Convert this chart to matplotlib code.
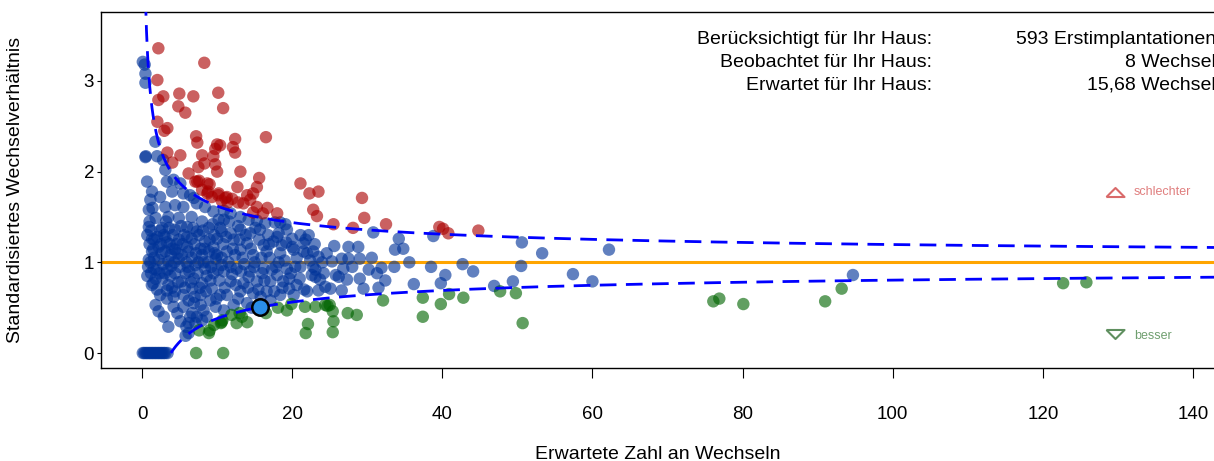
import numpy as np
from matplotlib import pyplot as plt

plt.rcParams['font.family'] = ['Liberation Sans', 'DejaVu Sans']

# -------------------------------
# Data: (expected changes, standardised ratio) per hospital
# -------------------------------
blue_pts = [
    # observed = 0
    (0.1, 0), (0.3, 0), (0.5, 0), (0.7, 0), (0.9, 0), (1.1, 0), (1.3, 0), (1.5, 0),
    (1.7, 0), (1.9, 0), (2.1, 0), (2.3, 0), (2.5, 0), (2.7, 0), (2.9, 0), (3.1, 0), (3.4, 0),
    # small expected counts, high ratios
    (0.1, 3.21), (0.35, 3.18), (0.45, 3.08), (0.45, 2.98), (0.45, 2.16),
    (1.77, 2.33), (0.5, 2.17), (2.0, 2.17), (2.8, 2.13), (3.1, 2.02), (0.67, 1.89),
    (3.3, 1.89), (4.2, 1.91), (5.1, 1.87), (1.33, 1.78), (2.4, 1.72), (1.1, 1.69),
    (4.0, 1.78), (5.5, 1.76), (6.4, 1.74), (6.9, 1.71), (0.9, 1.58), (3.1, 1.61),
    (4.4, 1.63), (5.5, 1.61), (7.3, 1.65), (8.4, 1.61), (9.5, 1.56), (1.8, 1.49),
    (3.5, 1.50), (4.9, 1.49), (6.6, 1.50), (8.0, 1.45), (10.2, 1.47), (0.9, 1.39),
    (2.7, 1.38), (4.4, 1.36), (6.0, 1.39), (7.3, 1.34), (8.9, 1.38), (10.6, 1.34),
    (1.33, 1.26), (3.1, 1.28), (4.9, 1.25), (6.6, 1.26), (8.4, 1.23), (10.0, 1.26),
    (2.2, 1.17), (4.0, 1.15), (6.0, 1.17), (7.8, 1.15), (9.5, 1.17),
    (10.9, 1.57), (11.8, 1.54), (13.1, 1.50), (14.2, 1.47), (15.3, 1.46), (16.4, 1.43),
    (17.7, 1.44), (19.1, 1.42), (19.3, 1.36), (21.1, 1.30), (21.5, 1.21), (20.0, 1.26),
    (18.2, 1.32), (16.8, 1.30), (15.7, 1.36), (14.4, 1.32), (13.1, 1.36), (11.8, 1.32),
    (10.9, 1.47), (12.2, 1.25), (14.0, 1.21), (16.2, 1.19), (17.5, 1.23), (18.6, 1.19),
    (20.0, 1.17), (18.4, 1.44), (22.0, 1.10), (22.8, 0.95), (23.1, 0.84),
    # around the reference line and below
    (0.9, 1.03), (1.55, 0.93), (1.3, 0.75), (1.8, 0.53), (2.2, 0.46), (2.9, 0.40),
    (3.5, 0.29), (2.4, 0.64), (3.3, 0.60), (4.2, 0.51), (4.7, 0.44), (5.1, 0.35),
    (6.2, 0.33), (6.7, 0.44), (7.3, 0.40), (8.0, 0.36), (8.2, 0.47), (8.6, 0.40),
    (2.7, 0.82), (3.5, 0.75), (4.4, 0.68), (5.5, 0.64), (6.2, 0.58), (6.9, 0.55),
    (7.8, 0.53), (5.3, 0.79), (6.7, 0.71), (7.8, 0.64), (9.1, 0.58), (9.8, 0.51),
    (4.4, 0.88), (5.8, 0.88), (6.9, 0.82), (8.0, 0.77), (9.3, 0.71), (10.4, 0.64),
    (7.1, 0.97), (8.4, 0.93), (9.5, 0.88), (2.2, 1.03), (3.5, 1.01), (4.9, 1.04),
    (3.1, 1.12), (4.4, 1.14), (6.2, 1.12), (8.0, 1.08), (9.8, 1.04), (10.6, 0.97),
    (1.33, 1.12), (5.9, 0.29), (5.8, 0.19), (6.2, 0.22), (1.5, 0.77), (3.3, 0.69),
    (4.2, 0.62), (5.5, 0.51), (6.4, 0.40), (7.1, 0.33),
    (11.3, 1.12), (13.1, 1.14), (14.8, 1.08), (16.6, 1.12), (18.4, 1.10), (20.2, 1.14),
    (21.5, 1.12), (22.8, 1.12), (21.1, 0.95), (22.6, 0.86), (19.3, 0.93), (18.0, 0.86),
    (16.2, 0.93), (14.4, 0.90), (12.6, 0.93), (10.9, 0.90), (11.8, 0.79), (13.5, 0.77),
    (15.3, 0.79), (17.1, 0.79), (18.8, 0.79), (20.6, 0.75), (22.0, 0.68), (20.2, 0.64),
    (18.4, 0.64), (16.6, 0.68), (14.8, 0.66), (13.1, 0.68), (11.3, 0.64), (12.2, 0.53),
    (14.0, 0.55), (14.6, 0.50), (17.1, 0.58), (10.9, 0.47),
    # dense middle of the cloud
    (0.7, 1.30), (1.0, 1.20), (0.8, 0.95), (0.7, 0.85), (1.2, 0.88), (1.6, 1.05),
    (1.9, 0.92), (2.0, 1.28), (2.4, 1.35), (2.6, 1.10), (2.8, 0.98), (3.0, 0.88),
    (3.3, 1.22), (3.8, 1.08), (3.9, 0.96), (4.1, 1.30), (4.6, 1.20), (5.0, 0.95),
    (5.3, 1.08), (5.6, 1.30), (5.9, 1.00), (6.3, 0.90), (6.6, 1.05), (7.0, 1.20),
    (7.4, 0.88), (7.6, 1.30), (8.2, 1.00), (8.6, 0.85), (8.9, 1.12), (9.2, 0.95),
    (9.6, 1.30), (10.0, 1.08), (10.3, 0.80), (10.8, 1.20), (11.5, 1.00), (12.0, 0.87),
    (12.4, 1.08), (13.0, 1.25), (13.6, 0.98), (14.2, 0.84), (15.0, 1.00), (15.6, 1.25),
    (16.0, 0.88), (17.0, 1.05), (17.8, 0.95), (18.0, 1.28), (19.0, 1.02), (19.8, 0.88),
    (20.6, 1.05), (21.8, 1.25), (22.4, 1.02), (12.8, 0.60), (15.8, 0.62), (19.6, 0.71),
    (1.0, 1.45), (1.4, 1.60), (1.2, 1.35), (1.6, 1.25), (1.5, 1.15), (1.1, 1.00),
    (1.8, 0.82), (2.0, 0.70), (2.3, 0.88), (2.5, 1.20), (2.9, 1.30), (3.2, 1.45),
    (3.6, 1.38), (3.7, 1.20), (3.4, 0.92), (3.8, 0.85), (4.0, 0.72), (4.3, 1.00),
    (4.7, 1.10), (4.8, 0.78), (5.2, 1.40), (5.4, 1.20), (5.7, 0.72), (6.0, 1.28),
    (6.1, 0.95), (6.5, 0.78), (6.8, 1.38), (7.0, 0.62), (7.2, 1.10), (7.5, 1.00),
    (7.7, 0.72), (8.1, 1.35), (8.3, 1.15), (8.5, 0.68), (8.8, 1.00), (9.0, 1.25),
    (9.1, 0.80), (9.4, 1.42), (9.7, 1.10), (9.9, 0.60), (10.1, 0.92), (10.4, 1.38),
    (10.6, 1.05), (11.0, 0.72), (11.2, 1.28), (11.6, 1.45), (11.8, 0.95), (12.1, 1.15),
    (12.5, 0.75), (12.8, 1.40), (13.2, 0.90), (13.4, 1.05), (13.8, 1.30), (14.1, 0.72),
    (14.5, 1.15), (14.9, 0.95), (15.1, 1.38), (15.5, 0.70), (15.9, 1.05), (16.3, 0.80),
    (16.9, 1.20), (17.3, 0.92), (17.6, 0.68), (18.2, 1.00), (18.7, 0.72), (19.2, 1.22),
    (19.6, 0.82), (20.4, 0.95), (21.0, 0.82), (21.6, 0.70), (22.2, 1.30), (23.0, 1.20),
    # larger hospitals
    (30.8, 1.33), (34.2, 1.26), (33.7, 1.14), (34.8, 1.15), (38.8, 1.29), (27.5, 1.17),
    (28.8, 1.17), (24.6, 1.10), (23.5, 1.06), (26.6, 1.04), (27.5, 1.04), (29.0, 1.04),
    (25.3, 1.01), (24.0, 1.00), (26.8, 0.93), (30.2, 0.92), (31.3, 0.88), (31.9, 0.94),
    (33.6, 0.95), (38.5, 0.95), (42.7, 0.98), (44.1, 0.90), (40.4, 0.86), (39.8, 0.77),
    (26.2, 0.84), (27.3, 0.81), (29.0, 0.82), (29.5, 0.71), (31.5, 0.72), (23.1, 0.92),
    (23.7, 0.81), (24.4, 0.73), (25.1, 0.71), (23.5, 0.69), (26.6, 0.69),
    (24.2, 0.88), (25.6, 1.18), (25.8, 0.86), (28.0, 0.95), (30.6, 1.05), (32.4, 0.80),
    (35.6, 1.00), (36.2, 0.76),
    (46.9, 0.74), (49.4, 0.79), (50.6, 1.22), (50.5, 0.96), (53.3, 1.10), (57.4, 0.87),
    (60.0, 0.79), (62.2, 1.14), (94.7, 0.86),
]

red_pts = [
    (2.17, 3.36), (8.29, 3.20), (2.04, 3.01), (2.83, 2.83), (2.17, 2.79), (4.96, 2.86),
    (6.83, 2.83), (10.15, 2.87), (4.83, 2.72), (5.76, 2.65), (10.8, 2.70), (2.04, 2.55),
    (3.37, 2.48), (2.96, 2.45), (7.2, 2.39), (7.36, 2.32), (12.4, 2.36), (16.5, 2.38),
    (10.0, 2.30), (12.1, 2.27), (9.75, 2.25), (3.37, 2.21), (5.1, 2.18), (8.0, 2.18),
    (12.4, 2.21), (9.5, 2.17), (4.03, 2.10), (8.3, 2.09), (9.75, 2.08), (7.5, 2.05),
    (13.1, 2.00), (10.0, 2.00), (6.2, 1.98), (15.6, 1.93), (7.36, 1.89), (8.7, 1.87),
    (12.7, 1.83), (21.1, 1.87), (22.3, 1.76), (23.5, 1.78), (14.0, 1.74), (14.8, 1.76),
    (15.3, 1.83), (10.15, 1.74), (11.1, 1.71), (8.7, 1.76), (13.5, 1.65), (15.3, 1.61),
    (16.1, 1.54), (18.0, 1.54), (22.8, 1.58), (10.4, 2.29), (14.4, 1.69), (11.4, 1.66),
    (16.7, 1.60), (14.8, 1.55), (23.3, 1.51), (29.3, 1.71), (29.6, 1.49), (25.5, 1.42),
    (28.1, 1.38), (32.5, 1.42), (39.6, 1.39), (40.1, 1.37), (40.8, 1.32), (44.8, 1.35),
    (7.1, 1.89), (8.0, 1.80), (8.8, 1.78), (9.3, 1.72), (10.2, 1.76), (10.6, 1.68),
    (11.3, 1.72), (7.6, 1.90), (9.0, 1.86), (12.0, 1.70), (12.8, 1.66),
]

green_pts = [
    (7.2, 0.0), (10.8, 0.0), (8.9, 0.22), (7.6, 0.25), (9.6, 0.31), (10.7, 0.36),
    (11.9, 0.42), (12.6, 0.33), (14.0, 0.34), (13.0, 0.44), (16.5, 0.44), (18.1, 0.50),
    (19.3, 0.47), (19.9, 0.54), (21.7, 0.51), (22.1, 0.32), (21.8, 0.22), (23.1, 0.51),
    (10.6, 0.34), (13.3, 0.40), (24.4, 0.53), (25.0, 0.53), (25.4, 0.46), (25.5, 0.35),
    (25.4, 0.23), (27.4, 0.44), (28.6, 0.42), (32.1, 0.58), (37.4, 0.61), (37.4, 0.40),
    (39.8, 0.54), (40.9, 0.65), (42.8, 0.61), (47.7, 0.68), (49.8, 0.66), (50.7, 0.33),
    (76.1, 0.57), (76.9, 0.60), (80.1, 0.54), (91.0, 0.57), (93.2, 0.71), (122.7, 0.77),
    (125.8, 0.78), (10.5, 0.33), (24.7, 0.52), (9.0, 0.25),
]

# own hospital
own_expected = 15.68
own_observed = 8
n_implant = 593

info_labels = ["Berücksichtigt für Ihr Haus:", "Beobachtet für Ihr Haus:", "Erwartet für Ihr Haus:"]
info_values = ["%d Erstimplantationen" % n_implant, "%d Wechsel" % own_observed,
               ("%.2f Wechsel" % own_expected).replace(".", ",")]

# -------------------------------
# Plot
# -------------------------------
fig = plt.figure(figsize=(12.14, 4.61), dpi=100)
ax = fig.add_axes([101/1214, 1-368/461, 1-101/1214, 356/461])

ax.axhline(1, color='#ffa500', lw=2.2, zorder=1)

for pts, col in [(blue_pts, '#003399'), (red_pts, '#aa0000'), (green_pts, '#006400')]:
    e, r = np.array(pts).T
    ax.scatter(e, r, s=80, color=col, alpha=0.62, edgecolors='none', zorder=2)

# 95% funnel limits
ee = np.linspace(0.3, 145, 2000)
upper = 1 + 1.96/np.sqrt(ee)
lower = 1 - 1.96/np.sqrt(ee)
ax.plot(ee, upper, color='#0000ff', lw=2, ls=(0, (6, 3.4)), zorder=3)
ax.plot(ee[lower >= 0], lower[lower >= 0], color='#0000ff', lw=2, ls=(0, (6, 3.4)), zorder=3)

ax.scatter([own_expected], [own_observed/own_expected], s=140, color='#2a8de8',
           edgecolors='black', linewidths=1.8, zorder=4)

# better / worse markers
tri_up = [(-1, -0.5), (1, -0.5), (0, 0.5), (-1, -0.5)]
tri_dn = [(-1, 0.5), (1, 0.5), (0, -0.5), (-1, 0.5)]
ax.plot([0.911], [0.494], transform=ax.transAxes, marker=tri_up, ms=13, mfc='none',
        mec='#d96a6a', mew=1.5, ls='none')
ax.text(0.928, 0.494, "schlechter", transform=ax.transAxes, color='#e07f7f',
        fontsize=9, va='center')
ax.plot([0.911], [0.0955], transform=ax.transAxes, marker=tri_dn, ms=13, mfc='none',
        mec='#5f8f5f', mew=1.5, ls='none')
ax.text(0.928, 0.09, "besser", transform=ax.transAxes, color='#6f9f6f',
        fontsize=9, va='center')

for i in range(3):
    yy = 1 - (40 + 22.5*i)/461
    fig.text(932/1214, yy, info_labels[i], ha='right', va='center', fontsize=14)
    fig.text(1216/1214, yy, info_values[i], ha='right', va='center', fontsize=14)

ax.set_xlim(-5.47, 142.8)
ax.set_ylim(-0.165, 3.76)
ax.set_xticks(range(0, 141, 20))
ax.set_yticks([0, 1, 2, 3])
ax.tick_params(axis='x', length=7, width=0.8, pad=20, labelsize=13.5)
ax.tick_params(axis='y', length=3, width=0.8, pad=2, labelsize=13.5)
ax.spines['right'].set_visible(False)
for s in ['left', 'bottom', 'top']:
    ax.spines[s].set_linewidth(1)

ax.set_xlabel("Erwartete Zahl an Wechseln", fontsize=14, labelpad=17)
ax.set_ylabel("Standardisiertes Wechselverhältnis", fontsize=14, labelpad=43)

fig.savefig("out.png", dpi=100)
